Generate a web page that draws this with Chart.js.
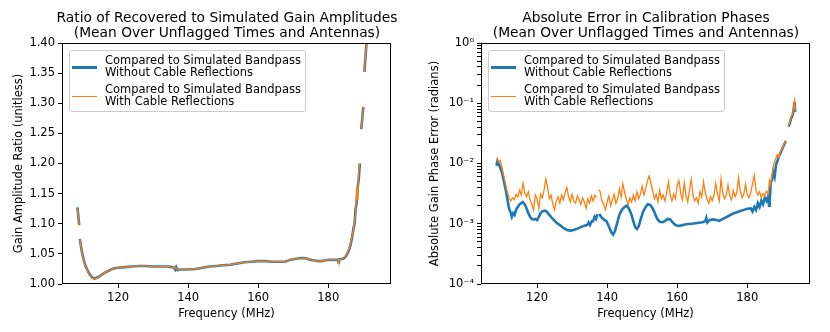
<!DOCTYPE html>
<html><head><meta charset="utf-8">
<script src="https://cdn.jsdelivr.net/npm/chart.js@4.4.1/dist/chart.umd.min.js"></script>
<style>
body{margin:0;background:#fff;font-family:'DejaVu Sans',sans-serif;}
#wrap{position:relative;width:830px;height:332px;overflow:hidden}
.panel{position:absolute;top:0;width:415px;height:332px}
.title{position:absolute;top:10px;width:500px;text-align:center;font-size:13.8px;line-height:15px;white-space:nowrap;color:#000}
.legend{position:absolute;top:50px;width:235px;height:60px;border:1px solid #ccc;border-radius:3px;background:rgba(255,255,255,0.8);font-size:11.5px;line-height:12px;color:#000}
.entry{position:absolute;left:35px;white-space:nowrap}
.sample{position:absolute;left:2px;width:25px}
</style></head>
<body>
<div id="wrap">
  <div class="panel" style="left:0"><canvas id="c1" width="415" height="332"></canvas></div>
  <div class="panel" style="left:415px"><canvas id="c2" width="415" height="332"></canvas></div>
  <div class="title" style="left:-23px">Ratio of Recovered to Simulated Gain Amplitudes<br>(Mean Over Unflagged Times and Antennas)</div>
  <div class="title" style="left:396px">Absolute Error in Calibration Phases<br>(Mean Over Unflagged Times and Antennas)</div>
  <div class="legend" style="left:69px">
    <div class="sample" style="top:15px;height:2.5px;background:#1f77b4"></div>
    <div class="entry" style="top:3px">Compared to Simulated Bandpass<br>Without Cable Reflections</div>
    <div class="sample" style="top:45px;height:1.3px;background:#ff7f0e"></div>
    <div class="entry" style="top:32px">Compared to Simulated Bandpass<br>With Cable Reflections</div>
  </div>
  <div class="legend" style="left:488px">
    <div class="sample" style="top:15px;height:2.5px;background:#1f77b4"></div>
    <div class="entry" style="top:3px">Compared to Simulated Bandpass<br>Without Cable Reflections</div>
    <div class="sample" style="top:45px;height:1.3px;background:#ff7f0e"></div>
    <div class="entry" style="top:32px">Compared to Simulated Bandpass<br>With Cable Reflections</div>
  </div>
</div>
<script>
// ---------- data ----------
const xTicks = [120, 140, 160, 180];
const ampTicks = [1.00, 1.05, 1.10, 1.15, 1.20, 1.25, 1.30, 1.35, 1.40];
const phaseTicks = [1e-4, 1e-3, 1e-2, 1e-1, 1];
const phaseTickLabels = ['10\u207B\u2074', '10\u207B\u00B3', '10\u207B\u00B2', '10\u207B\u00B9', '10\u2070'];

const ampFreq = [108.4,108.7,108.9,109.0,109.1,109.4,109.8,110.2,110.6,111.0,111.5,112.0,112.6,113.2,113.8,114.5,115.2,116.0,117.0,118.0,119.0,120.0,122.0,124.0,126.0,128.0,130.0,132.0,134.0,135.5,136.0,136.3,136.6,137.0,137.5,138.0,140.0,142.0,144.0,146.0,148.0,150.0,152.0,154.0,156.0,158.0,160.0,162.0,164.0,166.0,167.5,168.2,169.0,170.0,171.0,172.0,173.0,174.0,175.0,176.0,177.0,178.0,179.0,180.0,181.0,182.0,182.8,183.0,183.2,183.5,184.0,184.5,185.0,185.5,186.0,186.4,186.8,187.2,187.5,187.8,188.1,188.4,188.7,189.0,189.2,189.4,189.7,190.0,190.15,190.3,190.6,190.9,191.2,191.6,192.0,192.5,193.0,193.5];
const ampWithout = [1.127,1.110,1.098,null,1.075,1.063,1.050,1.040,1.032,1.026,1.020,1.015,1.011,1.009,1.010,1.012,1.015,1.018,1.021,1.024,1.026,1.027,1.028,1.029,1.030,1.030,1.029,1.029,1.029,1.028,1.027,1.024,1.028,1.023,1.024,1.024,1.024,1.025,1.027,1.029,1.030,1.031,1.032,1.034,1.036,1.037,1.038,1.038,1.037,1.037,1.037,1.038,1.040,1.041,1.042,1.043,1.043,1.042,1.040,1.039,1.038,1.038,1.039,1.040,1.040,1.040,1.040,1.034,1.041,1.041,1.042,1.043,1.046,1.051,1.058,1.066,1.078,1.092,1.100,1.125,1.135,1.160,1.175,1.200,null,1.257,1.275,1.294,null,1.352,1.375,1.400,1.430,1.480,1.550,1.650,1.750,1.850];
const ampWith = [1.126,1.109,1.097,null,1.074,1.062,1.049,1.039,1.031,1.025,1.019,1.014,1.010,1.008,1.009,1.012,1.015,1.018,1.021,1.024,1.026,1.027,1.028,1.029,1.030,1.030,1.029,1.029,1.029,1.028,1.027,1.025,1.027,1.024,1.024,1.024,1.024,1.025,1.027,1.029,1.030,1.031,1.032,1.034,1.036,1.037,1.038,1.038,1.037,1.037,1.037,1.038,1.040,1.041,1.042,1.043,1.043,1.042,1.040,1.039,1.038,1.038,1.039,1.040,1.040,1.040,1.040,1.035,1.041,1.041,1.042,1.044,1.047,1.053,1.060,1.068,1.080,1.090,1.105,1.115,1.160,1.140,1.190,1.200,null,1.257,1.276,1.294,null,1.352,1.376,1.400,1.430,1.480,1.550,1.650,1.750,1.850];

const phaseFreqWithout = [108.4,108.7,109.0,109.5,110.0,110.5,111.0,111.5,112.0,112.5,112.8,113.2,113.6,114.0,114.5,115.0,115.9,116.5,117.0,117.5,118.0,118.5,119.0,119.5,120.0,120.5,121.0,121.5,122.1,122.7,123.5,124.5,125.5,126.5,127.5,128.5,129.5,130.5,131.5,132.5,133.5,134.3,134.7,135.1,135.6,136.0,136.4,136.8,137.2,137.4,137.7,138.3,139.0,139.8,140.5,141.2,141.7,142.2,142.8,143.5,144.2,145.0,145.6,146.2,146.8,147.5,148.0,148.5,149.0,149.6,150.3,151.0,151.6,152.3,153.0,153.6,154.3,155.0,155.8,156.6,157.3,158.0,158.7,159.5,160.3,161.2,162.2,163.2,164.2,165.2,166.2,167.2,168.0,168.3,168.6,169.2,170.2,171.2,172.0,172.8,173.6,174.4,175.2,176.0,177.0,178.0,179.0,180.0,181.0,181.5,182.0,182.5,183.0,183.5,184.0,184.5,185.0,185.5,186.0,186.2,186.4,186.7,187.0,187.4,187.8,188.2,188.6,189.0,189.5,190.0,190.5,191.0,191.3,191.8,192.2,192.6,193.0,193.3,193.5,193.7];
const phaseWithout = [0.0092,0.0110,0.0100,0.0085,0.0070,0.0052,0.0038,0.0026,0.0018,0.0015,0.0013,0.0015,0.0014,0.0017,0.0019,0.0021,0.0023,0.0021,0.0018,0.0015,0.0013,0.0012,0.00118,0.0012,0.00115,0.0013,0.0015,0.0016,0.00165,0.0016,0.0014,0.0012,0.00105,0.00095,0.00085,0.00079,0.00077,0.00079,0.00083,0.00088,0.00093,0.00095,0.00105,0.00095,0.0011,0.0011,0.0013,0.0012,0.00145,null,0.00145,0.0013,0.00118,0.0011,0.0009,0.00072,0.00066,0.00075,0.0010,0.0014,0.0017,0.0019,0.0020,0.0018,0.0015,0.0011,0.00088,0.00082,0.0009,0.0012,0.0016,0.0019,0.0021,0.00205,0.0018,0.0015,0.0012,0.00108,0.00106,0.00112,0.0012,0.00118,0.00105,0.00095,0.00092,0.00094,0.00097,0.00099,0.0010,0.00102,0.00104,0.00106,0.0011,0.00125,0.00105,0.00115,0.00118,0.00115,0.00112,0.00118,0.00125,0.00132,0.0014,0.00148,0.00155,0.00163,0.0017,0.00178,0.0018,0.0016,0.0019,0.0017,0.0022,0.0019,0.0024,0.0021,0.0027,0.0024,0.0029,0.0020,0.0024,0.0048,0.0052,0.0072,0.0060,0.0095,0.0110,0.0130,0.0150,0.0175,0.0205,0.0235,null,0.041,0.048,0.058,0.065,0.085,0.105,0.072];

const phaseFreqWith = [108.5,109.0,109.5,110.0,110.5,111.0,111.5,112.0,112.5,113.0,113.5,114.0,114.5,115.0,115.5,116.0,116.5,117.0,117.5,118.0,118.5,119.0,119.5,120.0,120.5,121.0,121.5,122.0,122.5,123.0,123.5,124.0,124.5,125.0,125.5,126.0,126.5,127.0,127.5,128.0,128.5,129.0,129.5,130.0,130.5,131.0,131.5,132.0,132.5,133.0,133.5,134.0,134.5,135.0,135.5,136.0,136.5,137.0,137.3,137.6,138.0,138.5,139.0,139.5,140.0,140.5,141.0,141.5,142.0,142.5,143.0,143.5,144.0,144.5,145.0,145.5,146.0,146.5,147.0,147.5,148.0,148.5,149.0,149.5,150.0,150.5,151.0,151.5,152.0,152.5,153.0,153.5,154.0,154.5,155.0,155.5,156.0,156.5,157.0,157.5,158.0,158.5,159.0,159.5,160.0,160.5,161.0,161.5,162.0,162.5,163.0,163.5,164.0,164.5,165.0,165.5,166.0,166.5,167.0,167.5,168.0,168.5,169.0,169.5,170.0,170.5,171.0,171.5,172.0,172.5,173.0,173.5,174.0,174.5,175.0,175.5,176.0,176.5,177.0,177.5,178.0,178.5,179.0,179.5,180.0,180.5,181.0,181.5,182.0,182.5,183.0,183.5,184.0,184.5,185.0,185.5,186.0,186.3,186.6,187.0,187.5,188.0,188.5,189.0,189.5,190.0,190.5,191.0,191.3,191.8,192.2,192.6,193.0,193.3,193.5,193.7];
const phaseWith = [0.0125,0.0105,0.0112,0.0085,0.0062,0.0045,0.0034,0.0027,0.0024,0.0027,0.0025,0.0031,0.0028,0.0036,0.0030,0.0047,0.0032,0.0028,0.0034,0.0025,0.0021,0.0017,0.0030,0.0026,0.0018,0.0031,0.0027,0.0036,0.0055,0.0040,0.0026,0.0030,0.0021,0.0017,0.0024,0.0028,0.0022,0.0030,0.0025,0.0033,0.0040,0.0028,0.0023,0.0031,0.0024,0.0022,0.0029,0.0025,0.0021,0.0027,0.0023,0.0018,0.0026,0.0022,0.0029,0.0024,0.0030,0.0027,null,0.0037,0.0034,0.0024,0.0021,0.0017,0.0023,0.0029,0.0020,0.0025,0.0031,0.0022,0.0026,0.0038,0.0028,0.0046,0.0033,0.0025,0.0021,0.0027,0.0023,0.0030,0.0024,0.0034,0.0026,0.0031,0.0042,0.0030,0.0038,0.0052,0.0062,0.0047,0.0035,0.0026,0.0031,0.0023,0.0036,0.0026,0.0030,0.0024,0.0033,0.0050,0.0030,0.0024,0.0031,0.0026,0.0044,0.0052,0.0032,0.0025,0.0048,0.0029,0.0023,0.0036,0.0054,0.0030,0.0024,0.0027,0.0022,0.0034,0.0028,0.0050,0.0033,0.0026,0.0022,0.0028,0.0024,0.0030,0.0047,0.0031,0.0024,0.0055,0.0032,0.0026,0.0030,0.0044,0.0029,0.0025,0.0036,0.0028,0.0033,0.0058,0.0035,0.0027,0.0031,0.0045,0.0030,0.0027,0.0033,0.0047,0.0064,0.0036,0.0030,0.0034,0.0027,0.0032,0.0029,0.0035,0.0031,0.0052,0.0045,0.0060,0.0095,0.0115,0.0140,0.0125,0.0160,0.0180,0.0210,0.0240,null,0.042,0.050,0.060,0.068,0.092,0.110,0.075];

// ---------- helpers ----------
const BLUE = '#1f77b4', ORANGE = '#ff7f0e';
const FONT = {family: "'DejaVu Sans'", size: 11.5};
Chart.defaults.color = '#000';
Chart.defaults.font.family = "'DejaVu Sans'";
const pts = (fs, vs) => fs.map((f, i) => ({x: f, y: vs[i]}));

const framePlugin = {
  id: 'frame',
  afterDatasetsDraw(chart) {
    const {ctx, chartArea: a} = chart;
    ctx.save();
    ctx.strokeStyle = '#000';
    ctx.lineWidth = 1;
    ctx.strokeRect(Math.round(a.left) + 0.5, Math.round(a.top) + 0.5, Math.round(a.right - a.left) - 1, Math.round(a.bottom - a.top) - 1);
    ctx.restore();
  }
};

function xScale() {
  return {
    type: 'linear', min: 104, max: 197.9,
    afterBuildTicks: s => { s.ticks = xTicks.map(v => ({value: v})); },
    afterFit: s => { s.height = 48; },
    ticks: {font: FONT, color: '#000', padding: 3, maxRotation: 0, autoSkip: false, callback: v => String(v)},
    grid: {drawOnChartArea: false, drawTicks: true, tickLength: 4, color: '#000', lineWidth: 1},
    border: {display: false},
    title: {display: true, text: 'Frequency (MHz)', font: FONT, color: '#000', padding: {top: 1, bottom: 11}}
  };
}

function lineDs(label, data, color, width, order) {
  return {label, data, borderColor: color, backgroundColor: color, borderWidth: width,
    pointRadius: 0, pointHoverRadius: 0, fill: false, tension: 0, spanGaps: false, order};
}

const common = {
  responsive: false, animation: false, devicePixelRatio: 1,
  plugins: {legend: {display: false}, tooltip: {enabled: false}, title: {display: false}},
  events: []
};

new Chart(document.getElementById('c1'), {
  type: 'line',
  data: {datasets: [
    lineDs('Compared to Simulated Bandpass Without Cable Reflections', pts(ampFreq, ampWithout), BLUE, 2.6, 1),
    lineDs('Compared to Simulated Bandpass With Cable Reflections', pts(ampFreq, ampWith), ORANGE, 1.3, 0)
  ]},
  options: Object.assign({}, common, {
    layout: {padding: {left: 0, right: 24, top: 43, bottom: 0}},
    scales: {
      x: xScale(),
      y: {
        type: 'linear', min: 1.0, max: 1.4,
        afterBuildTicks: s => { s.ticks = ampTicks.map(v => ({value: v})); },
        afterFit: s => { s.width = 62; },
        ticks: {font: FONT, color: '#000', padding: 3, autoSkip: false, callback: v => Number(v).toFixed(2)},
        grid: {drawOnChartArea: false, drawTicks: true, tickLength: 4, color: '#000', lineWidth: 1},
        border: {display: false},
        title: {display: true, text: 'Gain Amplitude Ratio (unitless)', font: FONT, color: '#000', padding: {top: 12, bottom: 0}}
      }
    }
  }),
  plugins: [framePlugin]
});

const phaseAllTicks = [];
phaseTicks.forEach((p, k) => {
  phaseAllTicks.push({value: p, major: true, label: phaseTickLabels[k]});
  if (k < phaseTicks.length - 1) for (let m = 2; m <= 9; m++) phaseAllTicks.push({value: p * m, major: false, label: ''});
});

new Chart(document.getElementById('c2'), {
  type: 'line',
  data: {datasets: [
    lineDs('Compared to Simulated Bandpass Without Cable Reflections', pts(phaseFreqWithout, phaseWithout), BLUE, 2.6, 1),
    lineDs('Compared to Simulated Bandpass With Cable Reflections', pts(phaseFreqWith, phaseWith), ORANGE, 1.3, 0)
  ]},
  options: Object.assign({}, common, {
    layout: {padding: {left: 0, right: 20, top: 43, bottom: 0}},
    scales: {
      x: xScale(),
      y: {
        type: 'logarithmic', min: 1e-4, max: 1,
        afterBuildTicks: s => { s.ticks = phaseAllTicks.map(t => ({value: t.value, major: t.major})); },
        afterFit: s => { s.width = 66; },
        ticks: {font: FONT, color: '#000', padding: 3, autoSkip: false,
          callback: (v) => { const t = phaseAllTicks.find(q => Math.abs(q.value - v) / v < 1e-6); return t ? t.label : ''; }},
        grid: {drawOnChartArea: false, drawTicks: true, tickLength: 4, color: '#000', lineWidth: 1},
        border: {display: false},
        title: {display: true, text: 'Absolute Gain Phase Error (radians)', font: FONT, color: '#000', padding: {top: 13, bottom: 0}}
      }
    }
  }),
  plugins: [framePlugin]
});
</script>
</body></html>
